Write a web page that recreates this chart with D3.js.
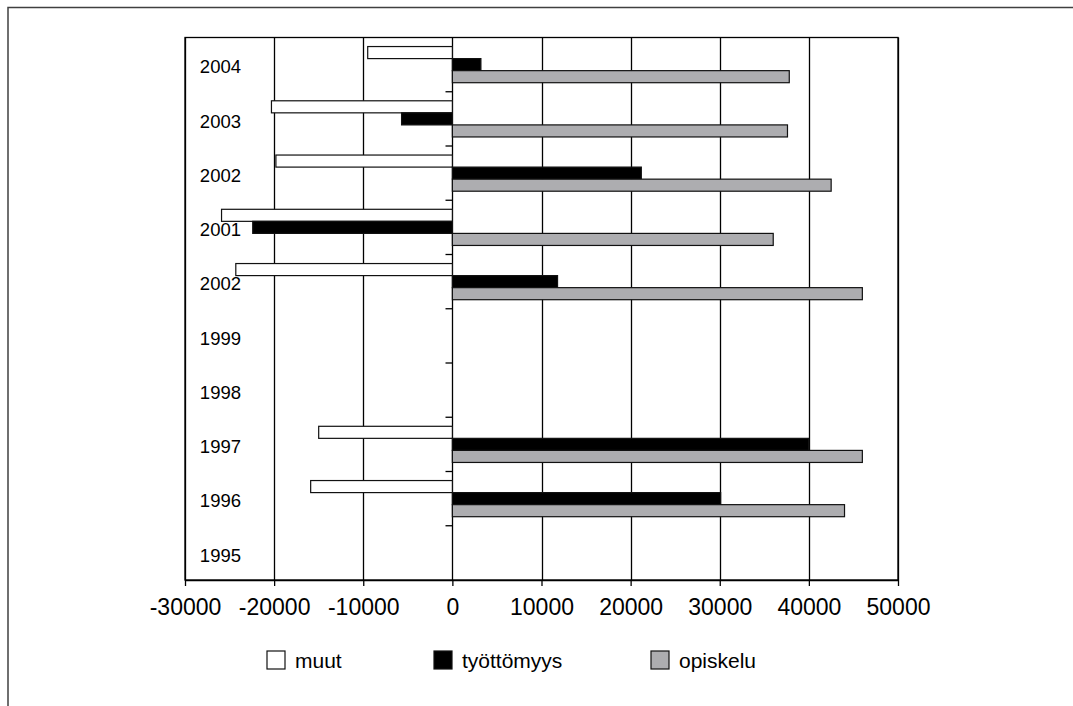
<!DOCTYPE html>
<html>
<head>
<meta charset="utf-8">
<script src="https://cdn.jsdelivr.net/npm/d3@7"></script>
<style>
  html, body { margin: 0; padding: 0; background: #fff; }
  svg { display: block; font-family: "Liberation Sans", Arial, sans-serif; }
</style>
</head>
<body>
<svg id="chart" width="1073" height="706"></svg>
<script>
// Categories (top to bottom) and the labels printed beside them
const years = ["2004", "2003", "2002", "2001", "2000", "1999", "1998", "1997", "1996", "1995"];
const yearLabels = ["2004", "2003", "2002", "2001", "2002", "1999", "1998", "1997", "1996", "1995"];

// Series values per category (null = no bar)
const muut       = [-9500, -20300, -19800, -25900, -24300, null, null, -15000, -15900, null];
const tyottomyys = [3200, -5700, 21200, -22400, 11800, null, null, 40000, 30100, null];
const opiskelu   = [37800, 37600, 42500, 36000, 46000, null, null, 46000, 44000, null];

const seriesNames = ["muut", "työttömyys", "opiskelu"];
const seriesFills = ["#ffffff", "#000000", "#adadb0"];

// x-axis tick values
const xTicks = [-30000, -20000, -10000, 0, 10000, 20000, 30000, 40000, 50000];

const series = [muut, tyottomyys, opiskelu];

const svg = d3.select("#chart");

const plot = { left: 185, right: 898, top: 37.5, bottom: 580 };

const x = d3.scaleLinear().domain([-30000, 50000]).range([plot.left, plot.right]);
const y = d3.scaleBand().domain(years).range([plot.top, plot.bottom]).paddingInner(0).paddingOuter(0);
const sub = d3.scaleBand().domain(seriesNames).range([0, y.bandwidth()]).paddingInner(0).paddingOuter(0.75);

// Outer frame (top and left edges)
svg.append("path")
  .attr("d", `M8,706 L8,7.5 L1073,7.5`)
  .attr("fill", "none")
  .attr("stroke", "#404040")
  .attr("stroke-width", 1.5);

// Vertical gridlines
svg.append("g")
  .selectAll("line")
  .data(xTicks)
  .join("line")
  .attr("x1", d => Math.round(x(d)) + 0.5)
  .attr("x2", d => Math.round(x(d)) + 0.5)
  .attr("y1", plot.top)
  .attr("y2", plot.bottom)
  .attr("stroke", "#000")
  .attr("stroke-width", 1.3);

// Bars
const bars = svg.append("g");
series.forEach((vals, si) => {
  bars.append("g")
    .selectAll("rect")
    .data(years.map((yr, i) => ({ yr, v: vals[i] })).filter(d => d.v != null))
    .join("rect")
    .attr("x", d => Math.min(x(0), x(d.v)))
    .attr("width", d => Math.abs(x(d.v) - x(0)))
    .attr("y", d => y(d.yr) + sub(seriesNames[si]))
    .attr("height", sub.bandwidth())
    .attr("fill", seriesFills[si])
    .attr("stroke", "#111")
    .attr("stroke-width", 1.2);
});

// Plot area border
svg.append("rect")
  .attr("x", plot.left)
  .attr("y", plot.top)
  .attr("width", plot.right - plot.left)
  .attr("height", plot.bottom - plot.top)
  .attr("fill", "none")
  .attr("stroke", "#000")
  .attr("stroke-width", 1.3);

// Category axis at zero: tick marks on band boundaries
const boundaries = years.slice(1).map(yr => y(yr));
svg.append("g")
  .selectAll("line")
  .data(boundaries)
  .join("line")
  .attr("x1", Math.round(x(0)) + 0.5 - 7)
  .attr("x2", Math.round(x(0)) + 0.5)
  .attr("y1", d => d)
  .attr("y2", d => d)
  .attr("stroke", "#000")
  .attr("stroke-width", 1.3);

// Category labels
svg.append("g")
  .selectAll("text")
  .data(years)
  .join("text")
  .attr("x", 241)
  .attr("y", (d) => y(d) + y.bandwidth() / 2 + 8.7)
  .attr("text-anchor", "end")
  .attr("font-size", 18.5)
  .attr("fill", "#000")
  .text((d, i) => yearLabels[i]);

// Value axis
const xAxis = d3.axisBottom(x)
  .tickValues(xTicks)
  .tickSize(6)
  .tickSizeOuter(0)
  .tickFormat(d => String(d));

const gx = svg.append("g")
  .attr("transform", `translate(0,${plot.bottom})`)
  .call(xAxis);
gx.select(".domain").attr("stroke", "#000").attr("stroke-width", 1.3);
gx.selectAll(".tick line").attr("stroke", "#000").attr("stroke-width", 1.3);
gx.selectAll(".tick text")
  .attr("font-size", 23)
  .attr("font-family", "Liberation Sans, Arial, sans-serif")
  .attr("fill", "#000")
  .attr("dy", null)
  .attr("y", 34.5);

// Legend
const legendX = [267, 434, 651];
const legend = svg.append("g");
seriesNames.forEach((name, i) => {
  legend.append("rect")
    .attr("x", legendX[i])
    .attr("y", 651)
    .attr("width", 18)
    .attr("height", 18)
    .attr("fill", seriesFills[i])
    .attr("stroke", "#111")
    .attr("stroke-width", 1.2);
  legend.append("text")
    .attr("x", legendX[i] + 28)
    .attr("y", 667.5)
    .attr("font-size", 21)
    .attr("fill", "#000")
    .text(name);
});
</script>
</body>
</html>
